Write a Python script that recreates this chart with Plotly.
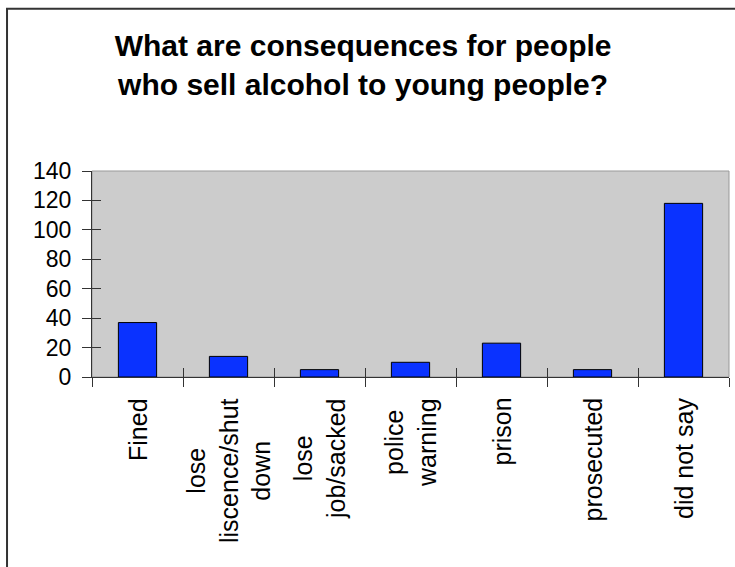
import plotly.graph_objects as go

categories = ["Fined", "lose liscence/shut down", "lose job/sacked", "police warning",
              "prison", "prosecuted", "did not say"]
label_text = ["Fined", "lose<br>liscence/shut<br>down", "lose<br>job/sacked", "police<br>warning",
              "prison", "prosecuted", "did not say"]
values = [37, 14, 5, 10, 23, 5, 118]
y_ticks = [0, 20, 40, 60, 80, 100, 120, 140]

FONT = "Arial, Liberation Sans, sans-serif"

fig = go.Figure()
fig.add_trace(go.Bar(
    x=categories, y=values,
    marker=dict(color="#0a32ff", line=dict(color="#000000", width=1)),
    showlegend=False, hoverinfo="skip",
))

# x labels (rotated, centered lines) anchored to the category axis
for cat, lab in zip(categories, label_text):
    fig.add_annotation(
        x=cat, y=0, xref="x", yref="y", text=lab, showarrow=False,
        textangle=-90, yanchor="top", xanchor="center", align="center",
        yshift=-19, font=dict(family=FONT, size=25, color="#000000"),
    )

fig.update_layout(
    width=735, height=567,
    margin=dict(l=92, r=6, t=171, b=190),
    paper_bgcolor="#ffffff", plot_bgcolor="#cccccc",
    bargap=0.58,
    title=dict(
        text="What are consequences for people<br>who sell alcohol to young people?",
        x=0.494, xanchor="center", xref="container",
        y=1 - 56 / 567, yanchor="top", yref="container",
        font=dict(family=FONT, size=30, color="#000000", weight="bold"),
    ),
    xaxis=dict(
        type="category", categoryarray=categories, categoryorder="array",
        showticklabels=False, ticks="outside", ticklen=9, tickcolor="#333333",
        tickson="boundaries", showline=True, linecolor="#333333", linewidth=1,
        showgrid=False, zeroline=False,
    ),
    yaxis=dict(
        range=[0, 140], tickvals=y_ticks, ticks="outside", ticklen=9,
        tickcolor="#333333", showline=True, linecolor="#333333", linewidth=1,
        showgrid=False, zeroline=False, ticklabelstandoff=6,
        tickfont=dict(family=FONT, size=23, color="#000000"),
    ),
    xaxis2=dict(
        overlaying="x", range=[-0.5, 6.5], tickvals=[0.5, 1.5, 2.5, 3.5, 4.5, 5.5],
        ticks="inside", ticklen=9, tickcolor="#333333", showticklabels=False,
        showline=False, showgrid=False, zeroline=False, side="bottom",
    ),
    yaxis2=dict(
        overlaying="y", range=[0, 140], tickvals=y_ticks, ticks="inside", ticklen=9,
        tickcolor="#333333", showticklabels=False, showline=False, showgrid=False,
        zeroline=False, side="left",
    ),
    shapes=[
        dict(type="rect", xref="paper", yref="paper", x0=0, x1=1, y0=0, y1=1,
             line=dict(color="#999999", width=1), layer="below"),
        dict(type="rect", xref="paper", yref="paper", x0=-0.1334, x1=1.5, y0=-2, y1=1.788,
             line=dict(color="#333333", width=2), fillcolor="rgba(0,0,0,0)", layer="above"),
    ],
)
# dummy invisible trace to activate the secondary axes
fig.add_trace(go.Scatter(x=[], y=[], xaxis="x2", yaxis="y2", showlegend=False))

fig.write_html("out.html", config={"displayModeBar": False},
               post_script="document.body.style.margin='0';document.body.style.overflow='hidden';")
